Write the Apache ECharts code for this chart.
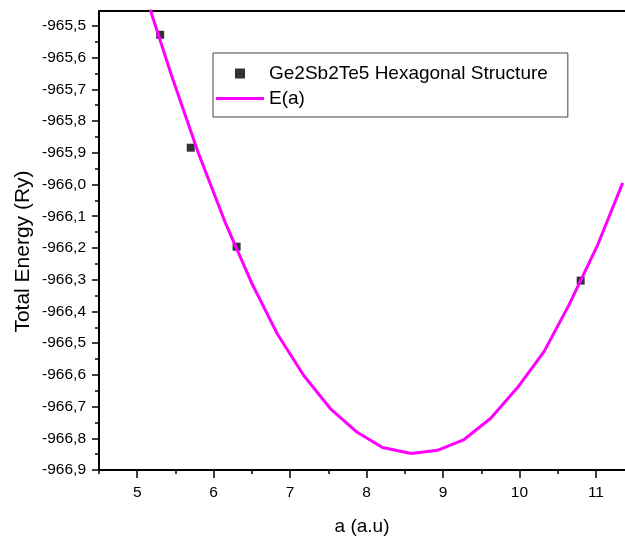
<!DOCTYPE html>
<html>
<head>
<meta charset="utf-8">
<script src="https://cdn.jsdelivr.net/npm/echarts@6/dist/echarts.min.js"></script>
<style>
  html, body { margin: 0; padding: 0; background: #fff; }
  #main { width: 625px; height: 541px; }
</style>
</head>
<body>
<div id="main"></div>
<script>
// points calculés
var aPoints = [5.3, 5.7, 6.3, 10.8];
var ePoints = [-965.528, -965.884, -966.196, -966.303];

// courbe E(a) (fit)
var aFit = [5.103, 5.450, 5.797, 6.145, 6.492, 6.837, 7.178, 7.528, 7.877, 8.209,
            8.585, 8.926, 9.275, 9.624, 9.974, 10.323, 10.651, 11.023, 11.35];
var eFit = [-965.399, -965.657, -965.899, -966.116, -966.308, -966.473, -966.602, -966.707, -966.781, -966.829,
            -966.848, -966.838, -966.804, -966.737, -966.640, -966.526, -966.378, -966.190, -965.995];

// graduations
var xTicks = [5, 6, 7, 8, 9, 10, 11];
var xMinor = [4.5, 5.5, 6.5, 7.5, 8.5, 9.5, 10.5];
var yTicks = [-966.9, -966.8, -966.7, -966.6, -966.5, -966.4, -966.3, -966.2, -966.1, -966.0,
              -965.9, -965.8, -965.7, -965.6, -965.5];
var yMinor = [-966.85, -966.75, -966.65, -966.55, -966.45, -966.35, -966.25, -966.15, -966.05,
              -965.95, -965.85, -965.75, -965.65, -965.55];

var xMin = 4.5, xMax = 11.38;
var yMin = -966.9, yMax = -965.453;

var font = "'Liberation Sans', Arial, sans-serif";
var axisLine = { show: true, onZero: false, lineStyle: { color: '#000', width: 2 } };

var myChart = echarts.init(document.getElementById('main'));

var option = {
  animation: false,
  backgroundColor: '#fff',
  grid: { left: 99, top: 11, right: 0, bottom: 70 },
  legend: {
    orient: 'vertical',
    left: 213,
    top: 53,
    padding: [11, 20, 9, 3],
    itemWidth: 48,
    itemHeight: 10,
    itemGap: 6,
    borderColor: '#444',
    borderWidth: 1,
    textStyle: { fontFamily: font, fontSize: 19, lineHeight: 19, color: '#000' },
    data: [
      { name: 'Ge2Sb2Te5 Hexagonal Structure', icon: 'path://M0,0L1,0L1,1L0,1Z' },
      { name: 'E(a)', icon: 'path://M0,0L48,0L48,3L0,3Z', itemStyle: { color: '#ff00ff' } }
    ]
  },
  xAxis: [{
    type: 'value', min: xMin, max: xMax, position: 'bottom',
    axisLine: axisLine,
    axisTick: { customValues: xTicks, length: 8, lineStyle: { color: '#000', width: 1.5 } },
    axisLabel: { customValues: xTicks, margin: 15, color: '#000', fontFamily: font, fontSize: 15.5 },
    splitLine: { show: false },
    name: 'a (a.u)', nameLocation: 'middle', nameGap: 47, nameMoveOverlap: false,
    nameTextStyle: { fontFamily: font, fontSize: 19, color: '#000' }
  }, {
    // petites graduations
    type: 'value', min: xMin, max: xMax, position: 'bottom',
    axisLine: { show: false },
    axisTick: { customValues: xMinor, length: 4, lineStyle: { color: '#000', width: 1.5 } },
    axisLabel: { show: false },
    splitLine: { show: false }
  }, {
    // cadre du haut
    type: 'value', min: xMin, max: xMax, position: 'top',
    axisLine: axisLine,
    axisTick: { show: false },
    axisLabel: { show: false },
    splitLine: { show: false }
  }],
  yAxis: [{
    type: 'value', min: yMin, max: yMax, position: 'left',
    axisLine: axisLine,
    axisTick: { customValues: yTicks, length: 7, lineStyle: { color: '#000', width: 1.5 } },
    axisLabel: {
      customValues: yTicks, margin: 13, color: '#000', fontFamily: font, fontSize: 15.5,
      formatter: function (v) { return v.toFixed(1).replace('.', ','); }
    },
    splitLine: { show: false },
    name: 'Total Energy (Ry)', nameLocation: 'middle', nameGap: 65, nameMoveOverlap: false,
    nameTextStyle: { fontFamily: font, fontSize: 21, color: '#000', padding: [0, 22, 0, 0] }
  }, {
    type: 'value', min: yMin, max: yMax, position: 'left',
    axisLine: { show: false },
    axisTick: { customValues: yMinor, length: 4, lineStyle: { color: '#000', width: 1.5 } },
    axisLabel: { show: false },
    splitLine: { show: false }
  }],
  series: [{
    name: 'Ge2Sb2Te5 Hexagonal Structure',
    type: 'scatter',
    xAxisIndex: 0, yAxisIndex: 0,
    symbol: 'rect',
    symbolSize: 8,
    itemStyle: { color: '#000' },
    data: aPoints.map(function (a, i) { return [a, ePoints[i]]; })
  }, {
    name: 'E(a)',
    type: 'line',
    xAxisIndex: 0, yAxisIndex: 0,
    symbol: 'none',
    lineStyle: { color: '#ff00ff', width: 3 },
    itemStyle: { color: '#ff00ff' },
    data: aFit.map(function (a, i) { return [a, eFit[i]]; })
  }]
};

myChart.setOption(option);
</script>
</body>
</html>
